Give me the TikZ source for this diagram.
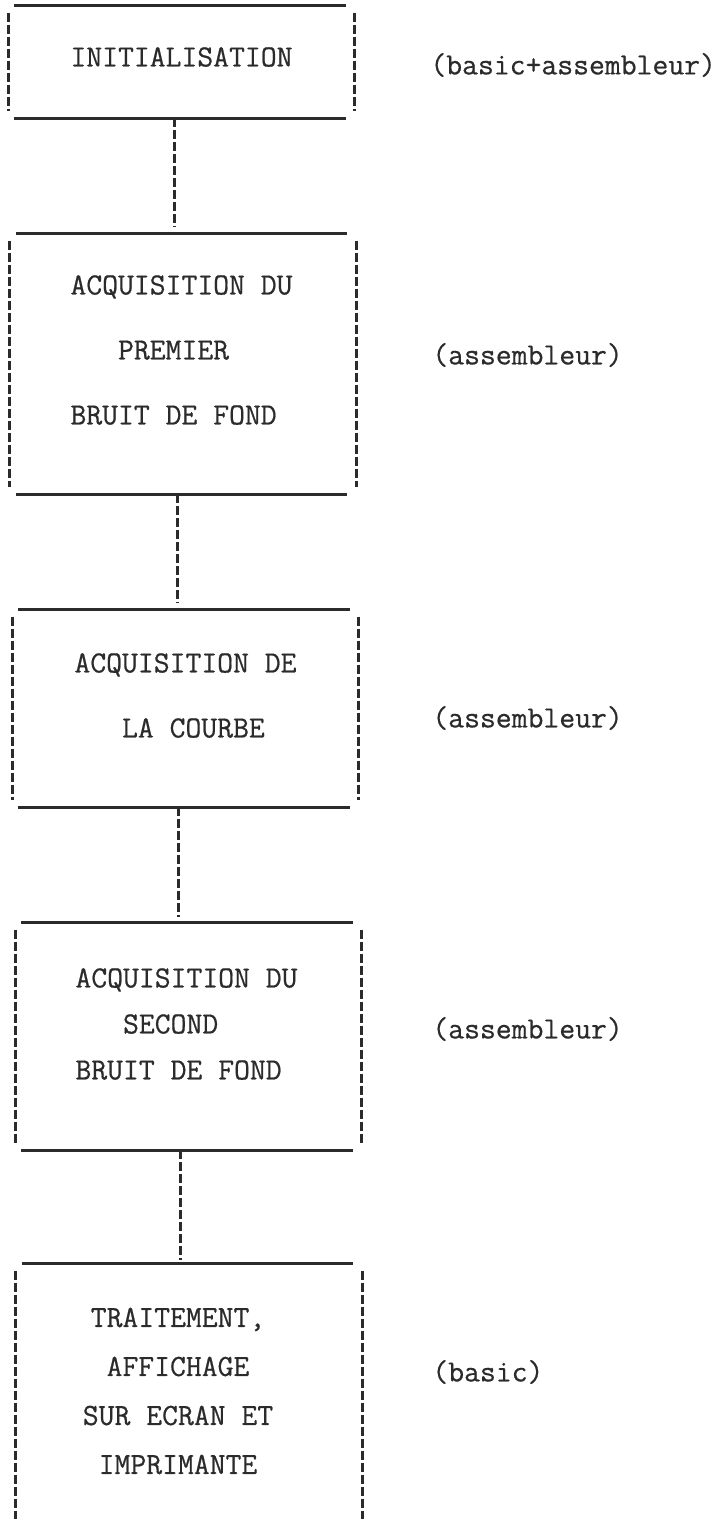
\documentclass[tikz,border=0pt]{standalone}
\usepackage{fontspec}
\usepackage{tikz}
\usetikzlibrary{positioning}
\newfontfamily\typew{Latin Modern Mono}[FakeBold=0.6]
\definecolor{ink}{HTML}{2B2B2B}
\tikzset{
  box/.style={minimum width=173pt, inner sep=0pt},
  boxtext/.style={font=\typew\fontsize{15.4}{32.5}\selectfont, text=ink, align=left, inner sep=0pt},
  note/.style={font=\typew\fontsize{15.4}{18}\selectfont, text=ink, anchor=west, inner sep=0pt},
  rule/.style={draw=ink, line width=1.6pt},
  bang/.style={draw=ink, line width=1.5pt, dash pattern=on 4.5pt off 1.5pt},
}

\begin{document}
\begin{tikzpicture}[x=0.5pt, y=-0.5pt]
    \useasboundingbox (0,0) rectangle (727,1524);

    % frames
    \node[box, minimum height=56pt]  (b1) at (181.5,62) {};
    \node[box, minimum height=130pt] (b2) at (183,364) {};
    \node[box, minimum height=98.5pt] (b3) at (185.5,708.5) {};
    \node[box, minimum height=113.5pt] (b4) at (188.5,1036.5) {};
    \node[box, minimum height=131pt] (b5) at (189,1395) {};

    \foreach \b in {b1,b2,b3,b4} {
        \draw[rule] ([xshift=3pt]\b.north west) -- ([xshift=-4.5pt]\b.north east);
        \draw[rule] ([xshift=3pt]\b.south west) -- ([xshift=-4.5pt]\b.south east);
    }
    \draw[rule] ([xshift=3pt]b5.north west) -- ([xshift=-4.5pt]b5.north east);
    \foreach \b in {b1,b2,b3,b4,b5} {
        \draw[bang] ([yshift=-3.5pt]\b.north west) -- ([yshift=3.5pt]\b.south west);
        \draw[bang] ([yshift=-3.5pt]\b.north east) -- ([yshift=3.5pt]\b.south east);
    }

    % texts
    \node[boxtext] (t1) at (181.5,57) {INITIALISATION};
    \node[boxtext] (t2) at (181.5,350) {ACQUISITION DU\\\hphantom{000}PREMIER\\BRUIT DE FOND};
    \node[boxtext] (t3) at (185.5,695.5) {ACQUISITION DE\\\hphantom{000}LA COURBE};
    \node[boxtext, font=\typew\fontsize{15.4}{23}\selectfont] (t4) at (186.5,1024)
        {ACQUISITION DU\\\hphantom{000}SECOND\\BRUIT DE FOND};
    \node[boxtext, align=center, font=\typew\fontsize{15.4}{24.5}\selectfont] (t5) at (178,1391)
        {TRAITEMENT,\\AFFICHAGE\\SUR ECRAN ET\\IMPRIMANTE};

    \node[note] (n1) at (430,65) {(basic+assembleur)};
    \node[note] (n2) at (432,355) {(assembleur)};
    \node[note] (n3) at (432,718) {(assembleur)};
    \node[note] (n4) at (432,1029) {(assembleur)};
    \node[note] (n5) at (432,1372) {(basic)};

    % links
    \draw[bang, shorten >=3.5pt] ([xshift=-3.75pt]b1.south) -- ([xshift=-3.75pt]b1.south |- b2.north);
    \draw[bang, shorten >=3.5pt] ([xshift=-3pt]b2.south) -- ([xshift=-3pt]b2.south |- b3.north);
    \draw[bang, shorten >=3pt] ([xshift=-3.5pt]b3.south) -- ([xshift=-3.5pt]b3.south |- b4.north);
    \draw[bang, shorten >=2pt] ([xshift=-4pt]b4.south) -- ([xshift=-4pt]b4.south |- b5.north);
\end{tikzpicture}
\end{document}
